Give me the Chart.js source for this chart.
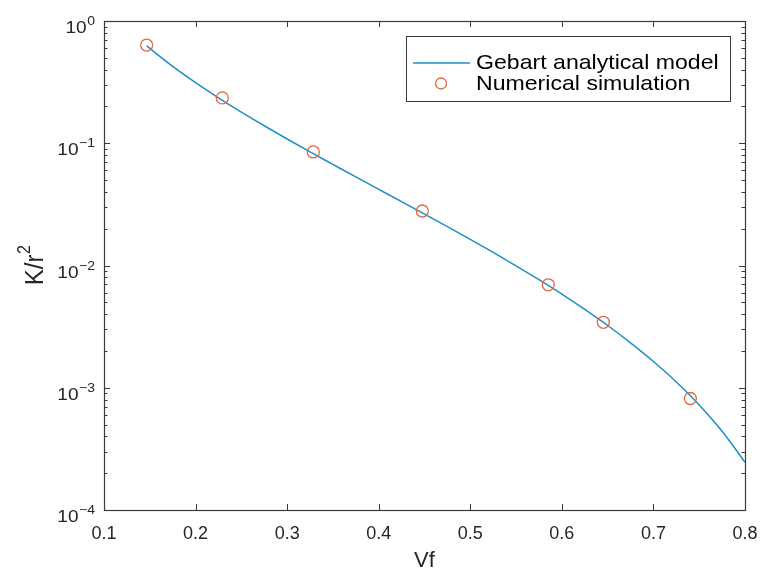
<!DOCTYPE html>
<html>
<head>
<meta charset="utf-8">
<script src="https://cdn.jsdelivr.net/npm/chart.js@4/dist/chart.umd.min.js"></script>
<style>
html,body{margin:0;padding:0;background:#fff;}
#wrap{width:762px;height:574px;}
</style>
</head>
<body>
<div id="wrap"><canvas id="c" width="762" height="574"></canvas></div>
<script>
// ---- data ----
const vfCurve = [0.1466, 0.175, 0.2, 0.225, 0.25, 0.275, 0.3, 0.325, 0.35, 0.375, 0.4, 0.425, 0.45, 0.475, 0.5, 0.525, 0.55, 0.575, 0.6, 0.625, 0.65, 0.675, 0.7, 0.725, 0.75, 0.775, 0.8];
const kCurve = [0.625, 0.4253, 0.3132, 0.2355, 0.1798, 0.1390, 0.1083, 0.0850, 0.0671, 0.0530, 0.0420, 0.0333, 0.02635, 0.0208, 0.01636, 0.0128, 0.00994, 0.00765, 0.00583, 0.00437, 0.00323, 0.00233, 0.00164, 0.001115, 0.000724, 0.000441, 0.000246];
const vfSim = [0.1466, 0.2292, 0.3286, 0.4476, 0.5852, 0.6453, 0.7403];
const kSim = [0.636, 0.235, 0.0849, 0.0279, 0.00695, 0.00343, 0.000817];
const xTickValues = [0.1, 0.2, 0.3, 0.4, 0.5, 0.6, 0.7, 0.8];
const yDecadeExps = [0, -1, -2, -3, -4];
const seriesNames = ['Gebart analytical model', 'Numerical simulation'];
const xTitle = 'Vf';
const yTitleBase = 'K/r';
const yTitleSup = '2';

const LINE_COLOR = '#1b8fc8';
const PT_COLOR = '#e3673f';
const AXIS = '#3a3a3a';
const TXT = '#262626';
const FONT = '"Liberation Sans", Arial, Helvetica, sans-serif';

function drawStretched(ctx, text, x, y, sx) {
  ctx.save();
  ctx.translate(x, y);
  ctx.scale(sx, 1);
  ctx.fillText(text, 0, 0);
  ctx.restore();
}

const matlabAxes = {
  id: 'matlabAxes',
  afterDraw(chart) {
    const ctx = chart.ctx;
    const a = chart.chartArea;
    const xs = chart.scales.x, ys = chart.scales.y;
    ctx.save();
    // box
    ctx.strokeStyle = AXIS;
    ctx.lineWidth = 1.2;
    ctx.strokeRect(Math.round(a.left) + 0.5, Math.round(a.top) + 0.5, Math.round(a.right - a.left), Math.round(a.bottom - a.top));
    ctx.lineWidth = 1;
    const seg = (x1, y1, x2, y2) => { ctx.beginPath(); ctx.moveTo(x1, y1); ctx.lineTo(x2, y2); ctx.stroke(); };
    // x ticks inward, bottom and top
    xTickValues.forEach(v => {
      const px = Math.round(xs.getPixelForValue(v)) + 0.5;
      seg(px, a.bottom, px, a.bottom - 6);
      seg(px, a.top, px, a.top + 6);
    });
    // y ticks: major and minor, left and right
    yDecadeExps.forEach(e => {
      const py = Math.round(ys.getPixelForValue(Math.pow(10, e))) + 0.5;
      seg(a.left, py, a.left + 6, py);
      seg(a.right, py, a.right - 6, py);
      if (e < 0) {
        for (let m = 2; m <= 9; m++) {
          const pm = Math.round(ys.getPixelForValue(m * Math.pow(10, e))) + 0.5;
          seg(a.left, pm, a.left + 3.5, pm);
          seg(a.right, pm, a.right - 3.5, pm);
        }
      }
    });
    // y tick labels 10^e
    ctx.fillStyle = TXT;
    ctx.textBaseline = 'alphabetic';
    ctx.textAlign = 'left';
    const sx = 1.12;
    yDecadeExps.forEach(e => {
      const py = ys.getPixelForValue(Math.pow(10, e));
      const expTxt = e < 0 ? '\u2212' + (-e) : String(e);
      ctx.font = '12.5px ' + FONT;
      const we = ctx.measureText(expTxt).width * sx;
      ctx.font = '17px ' + FONT;
      const wb = ctx.measureText('10').width * sx;
      const right = a.left - 9;
      drawStretched(ctx, '10', right - we - wb - 0.5, py + 12, sx);
      ctx.font = '12.5px ' + FONT;
      drawStretched(ctx, expTxt, right - we, py + 4, sx);
    });
    // y title rotated
    ctx.save();
    const cy = (a.top + a.bottom) / 2;
    ctx.translate(43, cy);
    ctx.scale(1.1, 1);
    ctx.rotate(-Math.PI / 2);
    ctx.font = '24px ' + FONT;
    const wK = ctx.measureText(yTitleBase).width;
    ctx.font = '16px ' + FONT;
    const w2 = ctx.measureText(yTitleSup).width;
    const start = -(wK + w2) / 2;
    ctx.font = '24px ' + FONT;
    ctx.fillText(yTitleBase, start, 0);
    ctx.font = '16px ' + FONT;
    ctx.fillText(yTitleSup, start + wK + 0.5, -12);
    ctx.restore();
    // legend
    const L = 406.5, T = 36.5, R = 730.5, B = 101.5;
    ctx.fillStyle = '#fff';
    ctx.fillRect(L, T, R - L, B - T);
    ctx.strokeStyle = AXIS;
    ctx.lineWidth = 1;
    ctx.strokeRect(L, T, R - L, B - T);
    ctx.strokeStyle = LINE_COLOR;
    ctx.lineWidth = 1.5;
    seg(413, 63, 470, 63);
    ctx.strokeStyle = PT_COLOR;
    ctx.lineWidth = 1.3;
    ctx.beginPath(); ctx.arc(441, 83.5, 5.5, 0, Math.PI * 2); ctx.stroke();
    ctx.fillStyle = '#000';
    ctx.font = '21px ' + FONT;
    ctx.textBaseline = 'middle';
    drawStretched(ctx, seriesNames[0], 476, 63.5, 1.1);
    drawStretched(ctx, seriesNames[1], 476, 84, 1.1);
    ctx.restore();
  }
};

const curveData = vfCurve.map((v, i) => ({ x: v, y: kCurve[i] }));
const simData = vfSim.map((v, i) => ({ x: v, y: kSim[i] }));

new Chart(document.getElementById('c'), {
  type: 'line',
  data: {
    datasets: [
      {
        label: seriesNames[1],
        data: simData,
        showLine: false,
        pointStyle: 'circle',
        pointRadius: 6,
        pointBorderWidth: 1.3,
        pointBorderColor: PT_COLOR,
        pointBackgroundColor: 'rgba(0,0,0,0)',
        borderColor: PT_COLOR
      },
      {
        label: seriesNames[0],
        data: curveData,
        borderColor: LINE_COLOR,
        borderWidth: 1.5,
        pointRadius: 0,
        cubicInterpolationMode: 'monotone',
        fill: false
      }
    ]
  },
  options: {
    responsive: false,
    animation: false,
    devicePixelRatio: 1,
    layout: { padding: { top: 21, right: 17, left: 0, bottom: 0 } },
    plugins: { legend: { display: false }, tooltip: { enabled: false } },
    scales: {
      x: {
        type: 'linear',
        min: 0.1, max: 0.8,
        afterBuildTicks: s => { s.ticks = xTickValues.map(v => ({ value: v })); },
        ticks: {
          callback: v => v.toFixed(1),
          font: { size: 18, family: FONT },
          color: TXT,
          padding: 13,
          maxRotation: 0
        },
        grid: { display: false, drawTicks: false },
        border: { display: false },
        title: { display: true, text: xTitle, font: { size: 22, family: FONT }, color: TXT, padding: { top: 0, bottom: 0 } },
        afterFit: s => { s.height = 64; s.paddingLeft = 0; s.paddingRight = 0; }
      },
      y: {
        type: 'logarithmic',
        min: 1e-4, max: 1,
        ticks: { display: false },
        grid: { display: false, drawTicks: false },
        border: { display: false },
        afterFit: s => { s.width = 104; s.paddingTop = 0; s.paddingBottom = 0; }
      }
    }
  },
  plugins: [matlabAxes]
});
</script>
</body>
</html>
